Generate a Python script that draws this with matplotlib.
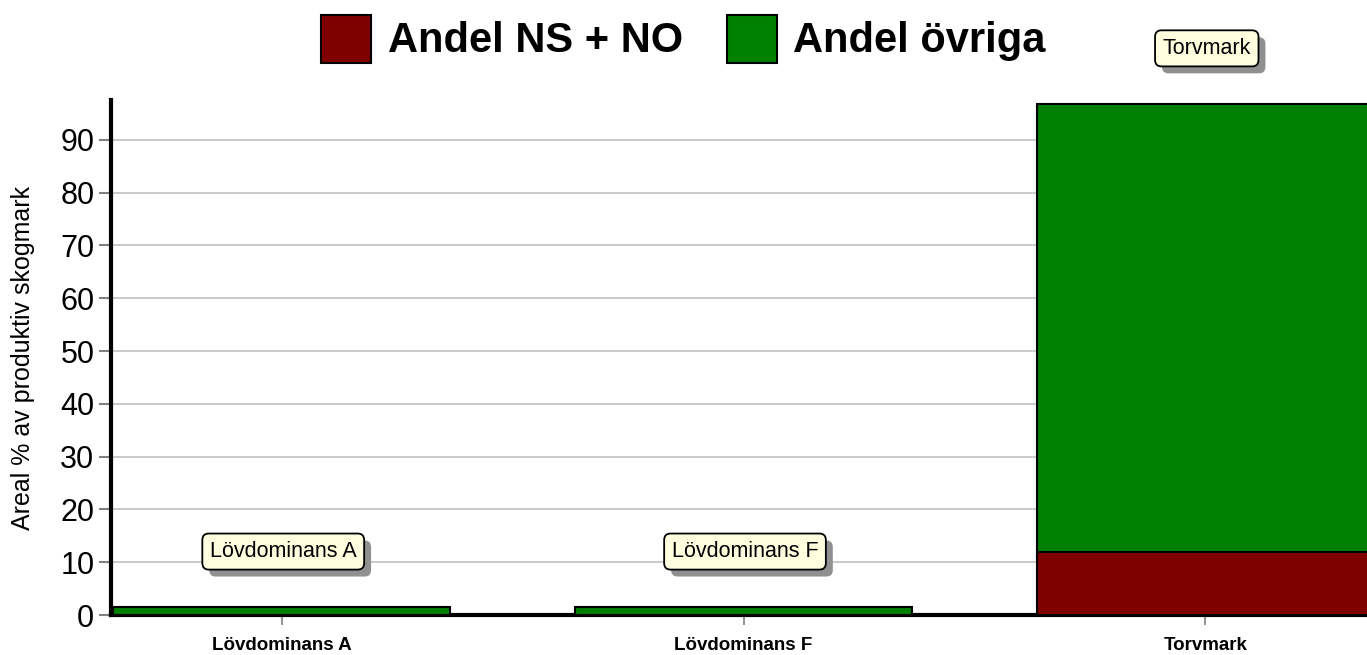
import matplotlib.pyplot as plt
import matplotlib.patheffects as pe
import numpy as np

categories = ["Lövdominans A", "Lövdominans F", "Torvmark"]
andel_ns_no = [0.0, 0.0, 11.9]
andel_ovriga = [1.5, 1.5, 84.9]

plt.rcParams['font.family'] = ['Liberation Sans', 'DejaVu Sans']

fig = plt.figure(figsize=(13.67, 6.55), dpi=100)
ax = fig.add_axes([0.0812, 0.061, 0.9188, 0.786])

x = np.arange(len(categories))
w = 0.73
ax.bar(x, andel_ns_no, w, color='#800000', edgecolor='black', linewidth=1.5,
       label='Andel NS + NO', zorder=3)
ax.bar(x, andel_ovriga, w, bottom=andel_ns_no, color='#008000', edgecolor='black',
       linewidth=1.5, label='Andel övriga', zorder=3)

ax.set_xlim(-0.37, 2.35)
ax.set_ylim(0, 97.5)
ax.set_yticks(np.arange(0, 91, 10))
ax.grid(axis='y', color='#c0c0c0', linewidth=1.2, zorder=0)
ax.set_axisbelow(True)

for s in ['top', 'right']:
    ax.spines[s].set_visible(False)
ax.spines['left'].set_linewidth(3)
ax.spines['bottom'].set_linewidth(3)

ax.set_xticks(x)
ax.set_xticklabels(categories, fontsize=13.5, fontweight='bold')
ax.tick_params(axis='y', labelsize=22, length=9, width=1.5, color='#808080', pad=3)
ax.tick_params(axis='x', length=7, width=1.2, color='#808080', pad=9)
ax.set_ylabel('Areal % av produktiv skogmark', fontsize=18, labelpad=18)

totals = [a + b for a, b in zip(andel_ns_no, andel_ovriga)]
for xi, t, name in zip(x, totals, categories):
    ann = ax.annotate(name, (xi, t), xytext=(1, 40), textcoords='offset points',
                      ha='center', va='center', fontsize=15.5, color='black',
                      bbox=dict(boxstyle='round,pad=0.35,rounding_size=0.3',
                                fc='#ffffe0', ec='black', lw=1.3),
                      annotation_clip=False, zorder=6)
    ann.get_bbox_patch().set_path_effects([
        pe.SimplePatchShadow(offset=(5, -5), shadow_rgbFace='#909090', alpha=1.0),
        pe.Normal()])

fig.legend(loc='upper center', bbox_to_anchor=(0.5, 1.035), ncol=2, frameon=False,
           prop={'size': 30, 'weight': 'bold'}, handlelength=1.2, handleheight=1.4,
           columnspacing=1.05, handletextpad=0.4)

fig.savefig('out.png', dpi=100)
